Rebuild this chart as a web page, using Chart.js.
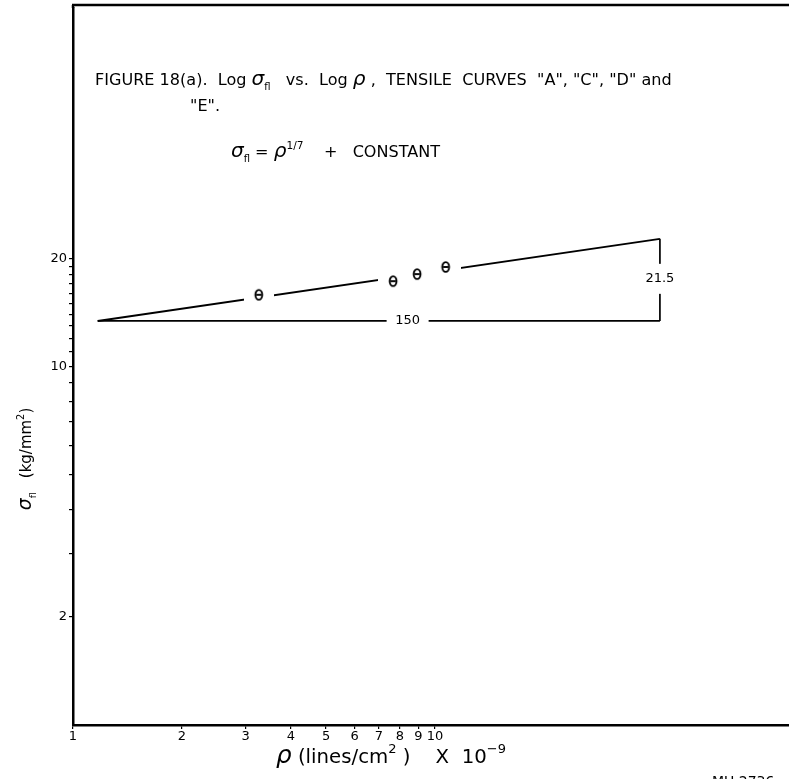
<!DOCTYPE html>
<html>
<head>
<meta charset="utf-8">
<script src="https://cdn.jsdelivr.net/npm/chart.js@4.4.1/dist/chart.umd.min.js"></script>
<style>
  html, body { margin: 0; padding: 0; background: #fff; overflow: hidden; width: 789px; height: 779px; }
</style>
</head>
<body>
<canvas id="fig18a" width="797" height="779"></canvas>
<script>
// axis ticks
const xTickValues = [1, 2, 3, 4, 5, 6, 7, 8, 9, 10];
const yTickValues = [2, 3, 4, 5, 6, 7, 8, 9, 10, 11, 12, 13, 14, 15, 16, 17, 18, 19, 20];
const yLabelValues = [2, 10, 20];

// measured points (rho x 1e-9, sigma kg/mm2)
const rhoValues = [3.26, 7.66, 8.92, 10.7];
const sigmaValues = [15.85, 17.3, 18.1, 18.95];

// slope line and its triangle (150 over, 21.5 up -> 1/7)
const fitRho = [1.17, 41.8];
const fitSigma = [13.4, 22.7];
const runText = '150';
const riseText = '21.5';
const runLabelRho = 8.4;
const riseLabelSigma = 17.56;

const FONT = '"DejaVu Sans", "Liberation Sans", sans-serif';

function thetaMark() {
  const c = document.createElement('canvas');
  c.width = 30; c.height = 14;
  const g = c.getContext('2d');
  g.fillStyle = '#fff';
  g.fillRect(0, 0, 30, 14);
  g.strokeStyle = '#000';
  g.lineWidth = 1.9;
  g.beginPath();
  g.ellipse(15, 7, 3.4, 4.9, 0, 0, Math.PI * 2);
  g.stroke();
  g.beginPath();
  g.moveTo(12.3, 7); g.lineTo(17.7, 7);
  g.stroke();
  return c;
}

// runs of [text, kind]; kind: '' normal, 'i' greek italic, 'sub', 'sup'
function runs(ctx, parts, x, y, size, draw) {
  let cx = x;
  for (const [t, k] of parts) {
    let fs = size, dy = 0, st = '';
    if (k === 'sub') { fs = size * 0.62; dy = size * 0.32; }
    if (k === 'sup') { fs = size * 0.66; dy = -size * 0.5; }
    if (k === 'i') { fs = size * 1.25; st = 'italic '; }
    ctx.font = st + fs + 'px ' + FONT;
    if (draw) ctx.fillText(t, cx, y + dy);
    cx += ctx.measureText(t).width;
  }
  return cx - x;
}

const textPlugin = {
  id: 'figText',
  afterDraw(chart) {
    const ctx = chart.ctx;
    const a = chart.chartArea;
    const xs = chart.scales.x, ys = chart.scales.y;
    ctx.save();

    // no frame on the right side in the original: keep that edge open
    ctx.fillStyle = '#fff';
    ctx.fillRect(a.right - 6, 7, 20, a.bottom - 8.5 - 7);

    ctx.fillStyle = '#000';
    ctx.strokeStyle = '#000';
    ctx.textBaseline = 'alphabetic';
    ctx.textAlign = 'left';

    // top frame line
    ctx.lineWidth = 2.5;
    ctx.beginPath();
    ctx.moveTo(a.left - 1, 5);
    ctx.lineTo(a.right + 8, 5);
    ctx.stroke();
    ctx.beginPath();
    ctx.moveTo(a.left, 5);
    ctx.lineTo(a.left, a.top);
    ctx.stroke();

    // slope labels on the triangle
    ctx.font = '13px ' + FONT;
    let px = xs.getPixelForValue(runLabelRho), py = ys.getPixelForValue(fitSigma[0]);
    ctx.fillStyle = '#fff';
    ctx.fillRect(px - 21, py - 5, 42, 10);
    ctx.fillStyle = '#000';
    ctx.textAlign = 'center';
    ctx.textBaseline = 'middle';
    ctx.fillText(runText, px, py);
    px = xs.getPixelForValue(fitRho[1]); py = ys.getPixelForValue(riseLabelSigma);
    ctx.fillStyle = '#fff';
    ctx.fillRect(px - 4, py - 15, 8, 30);
    ctx.fillStyle = '#000';
    ctx.fillText(riseText, px, py);

    ctx.textAlign = 'left';
    ctx.textBaseline = 'alphabetic';

    // title
    const line1 = [['FIGURE 18(a).  Log ', ''], ['σ', 'i'], ['fl', 'sub'], ['   vs.  Log ', ''], ['ρ', 'i'],
                   [' ,  TENSILE  CURVES  "A", "C", "D" and', '']];
    let w = runs(ctx, line1, 0, 0, 14, false);
    const size1 = 14 * 577 / w;
    runs(ctx, line1, 95, 85, size1, true);
    runs(ctx, [['"E".', '']], 190, 111, size1, true);

    const formula = [['σ', 'i'], ['fl', 'sub'], [' = ', ''], ['ρ', 'i'], ['1/7', 'sup'], ['    +   CONSTANT', '']];
    runs(ctx, formula, 231, 157, size1, true);

    // x axis title
    const xt = [['ρ', 'i'], [' (lines/cm', ''], ['2', 'sup'], [' )    X  10', ''], ['−9', 'sup']];
    w = runs(ctx, xt, 0, 0, 15, false);
    runs(ctx, xt, 276, 763, 15 * 230 / w, true);

    // y axis title
    const yt = [['σ', 'i'], ['fl', 'sub'], ['   (kg/mm', ''], ['2', 'sup'], [')', '']];
    w = runs(ctx, yt, 0, 0, 15, false);
    ctx.translate(31, 459);
    ctx.rotate(-Math.PI / 2);
    runs(ctx, yt, -w / 2, 0, 15, true);
    ctx.setTransform(1, 0, 0, 1, 0, 0);

    // plate number
    ctx.font = '14px ' + FONT;
    ctx.fillText('MU 2736', 712, 786);
    ctx.restore();
  }
};

const ctx = document.getElementById('fig18a').getContext('2d');
const fig = new Chart(ctx, {
  type: 'scatter',
  data: {
    datasets: [
      {
        label: 'tensile curves',
        data: rhoValues.map((v, i) => ({ x: v, y: sigmaValues[i] })),
        pointStyle: thetaMark(),
        pointRadius: 7,
        order: 0
      },
      {
        label: 'slope 1/7',
        data: fitRho.map((v, i) => ({ x: v, y: fitSigma[i] })),
        showLine: true,
        borderColor: '#000',
        borderWidth: 2,
        pointRadius: 0,
        order: 2
      },
      {
        label: 'run',
        data: [{ x: fitRho[0], y: fitSigma[0] }, { x: fitRho[1], y: fitSigma[0] }],
        showLine: true,
        borderColor: '#000',
        borderWidth: 1.7,
        pointRadius: 0,
        order: 3
      },
      {
        label: 'rise',
        data: [{ x: fitRho[1], y: fitSigma[0] }, { x: fitRho[1], y: fitSigma[1] }],
        showLine: true,
        borderColor: '#000',
        borderWidth: 1.7,
        pointRadius: 0,
        order: 3
      }
    ]
  },
  options: {
    responsive: false,
    animation: false,
    devicePixelRatio: 1,
    layout: { padding: { top: 5, right: 0, left: 0, bottom: 0 } },
    plugins: {
      legend: { display: false },
      tooltip: { enabled: false }
    },
    scales: {
      x: {
        type: 'logarithmic',
        min: 1,
        max: 95,
        afterBuildTicks: s => { s.ticks = xTickValues.map(v => ({ value: v })); },
        afterFit: s => { s.height = 54; s.paddingLeft = 0; s.paddingRight = 0; },
        ticks: {
          callback: v => String(v),
          autoSkip: false,
          maxRotation: 0,
          color: '#000',
          padding: 0,
          font: { size: 13, family: FONT }
        },
        grid: { drawOnChartArea: false, drawTicks: true, tickLength: 4, color: '#000', lineWidth: 1.2 },
        border: { color: '#000', width: 2.5 }
      },
      y: {
        type: 'logarithmic',
        min: 1,
        max: 100,
        afterBuildTicks: s => { s.ticks = yTickValues.map(v => ({ value: v })); },
        afterFit: s => { s.width = 73; s.paddingTop = 0; s.paddingBottom = 0; },
        ticks: {
          callback: v => (yLabelValues.includes(v) ? String(v) : ''),
          autoSkip: false,
          color: '#000',
          padding: 2,
          font: { size: 13, family: FONT }
        },
        grid: { drawOnChartArea: false, drawTicks: true, tickLength: 4, color: '#000', lineWidth: 1.2 },
        border: { color: '#000', width: 2.5 }
      }
    }
  },
  plugins: [textPlugin]
});
</script>
</body>
</html>
